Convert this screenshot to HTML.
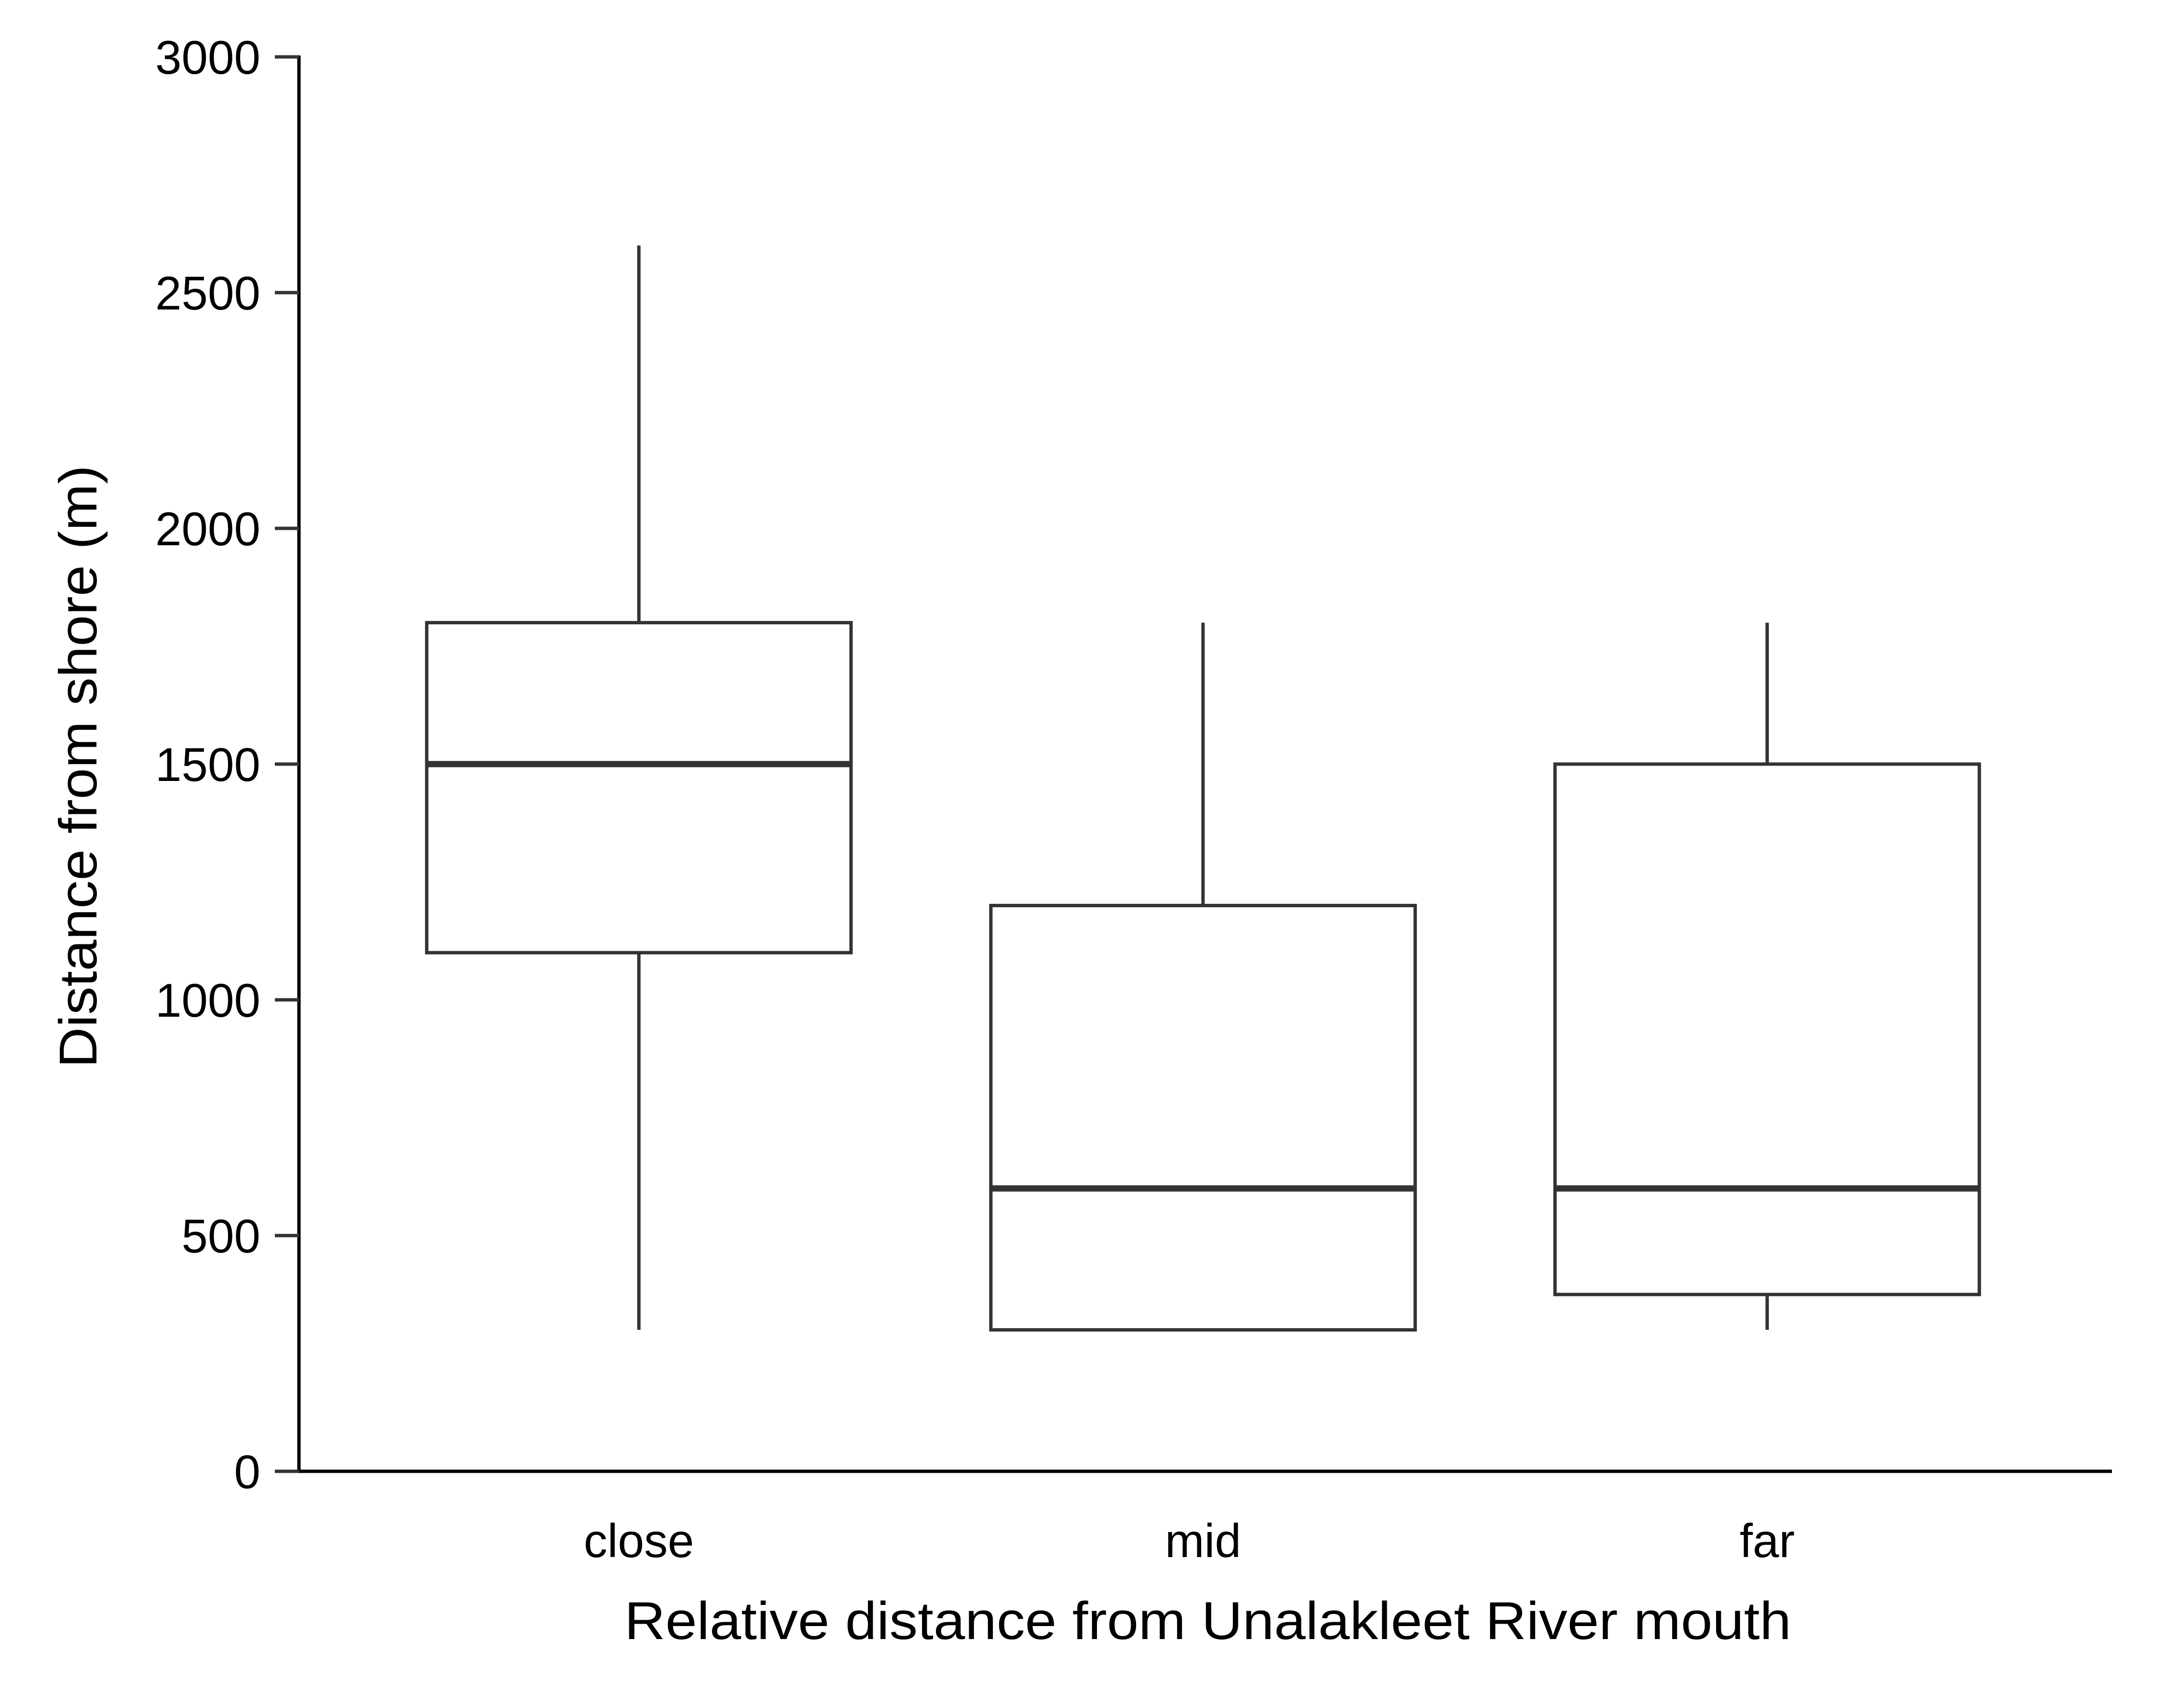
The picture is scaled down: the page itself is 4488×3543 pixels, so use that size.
<!DOCTYPE html>
<html><head><meta charset="utf-8"><style>html,body{margin:0;padding:0;background:#fff}svg{display:block}</style></head>
<body>
<svg id="chart" width="4488" height="3543" viewBox="0 0 4488 3543" xmlns="http://www.w3.org/2000/svg" font-family="Liberation Sans, sans-serif">
<rect width="4488" height="3543" fill="#fff"/>
<g id="marks"></g>
<text x="2505" y="3400" font-size="110" text-anchor="middle" textLength="2420" lengthAdjust="spacingAndGlyphs">Relative distance from Unalakleet River mouth</text>
<text transform="translate(200,1590) rotate(-90)" font-size="110" text-anchor="middle" textLength="1250" lengthAdjust="spacingAndGlyphs">Distance from shore (m)</text>
</svg>
<script>
const categories = ["close", "mid", "far"];
const whiskerLow = [300, 300, 300];
const q1 = [1100, 300, 375];
const median = [1500, 600, 600];
const q3 = [1800, 1200, 1500];
const whiskerHigh = [2600, 1800, 1800];
const yTicks = [0, 500, 1000, 1500, 2000, 2500, 3000];

const NS = "http://www.w3.org/2000/svg";
const g = document.getElementById("marks");
const X0 = 620, X1 = 4380, Y0 = 3052, Y1 = 118;
const y = v => Y0 - (v / 3000) * (Y0 - Y1);
const catCenter0 = 1325, catStep = 1170;
const x = i => catCenter0 + i * catStep;
const halfW = 440;
function el(tag, attrs) { const e = document.createElementNS(NS, tag); for (const k in attrs) e.setAttribute(k, attrs[k]); g.appendChild(e); return e; }

let a = el("line", {x1: X0, y1: Y1 - 3, x2: X0, y2: Y0 + 3, stroke: "#000", "stroke-width": 7});


a = el("line", {x1: X0 - 3, y1: Y0, x2: X1, y2: Y0, stroke: "#000", "stroke-width": 7});



yTicks.forEach(t => {
  const tk = el("line", {x1: X0 - 50, y1: y(t), x2: X0, y2: y(t), stroke: "#333", "stroke-width": 7});
  
  
  const lb = el("text", {x: X0 - 80, y: y(t) + 35, "font-size": 98, "text-anchor": "end"});
  lb.textContent = t;
  
  
});

categories.forEach((c, i) => {
  const cx = x(i);
  const lw = el("line", {x1: cx, y1: y(whiskerLow[i]), x2: cx, y2: y(q1[i]), stroke: "#333", "stroke-width": 7});
  
  
  const hw = el("line", {x1: cx, y1: y(q3[i]), x2: cx, y2: y(whiskerHigh[i]), stroke: "#333", "stroke-width": 7});
  
  
  const box = el("rect", {x: cx - halfW, y: y(q3[i]), width: 2 * halfW, height: y(q1[i]) - y(q3[i]), fill: "#fff", stroke: "#333", "stroke-width": 7});
  
  
  const md = el("line", {x1: cx - halfW, y1: y(median[i]), x2: cx + halfW, y2: y(median[i]), stroke: "#333", "stroke-width": 13});
  
  
  const lb = el("text", {x: cx, y: 3230, "font-size": 98, "text-anchor": "middle"});
  lb.textContent = c;
  
  
});
</script>
</body></html>
